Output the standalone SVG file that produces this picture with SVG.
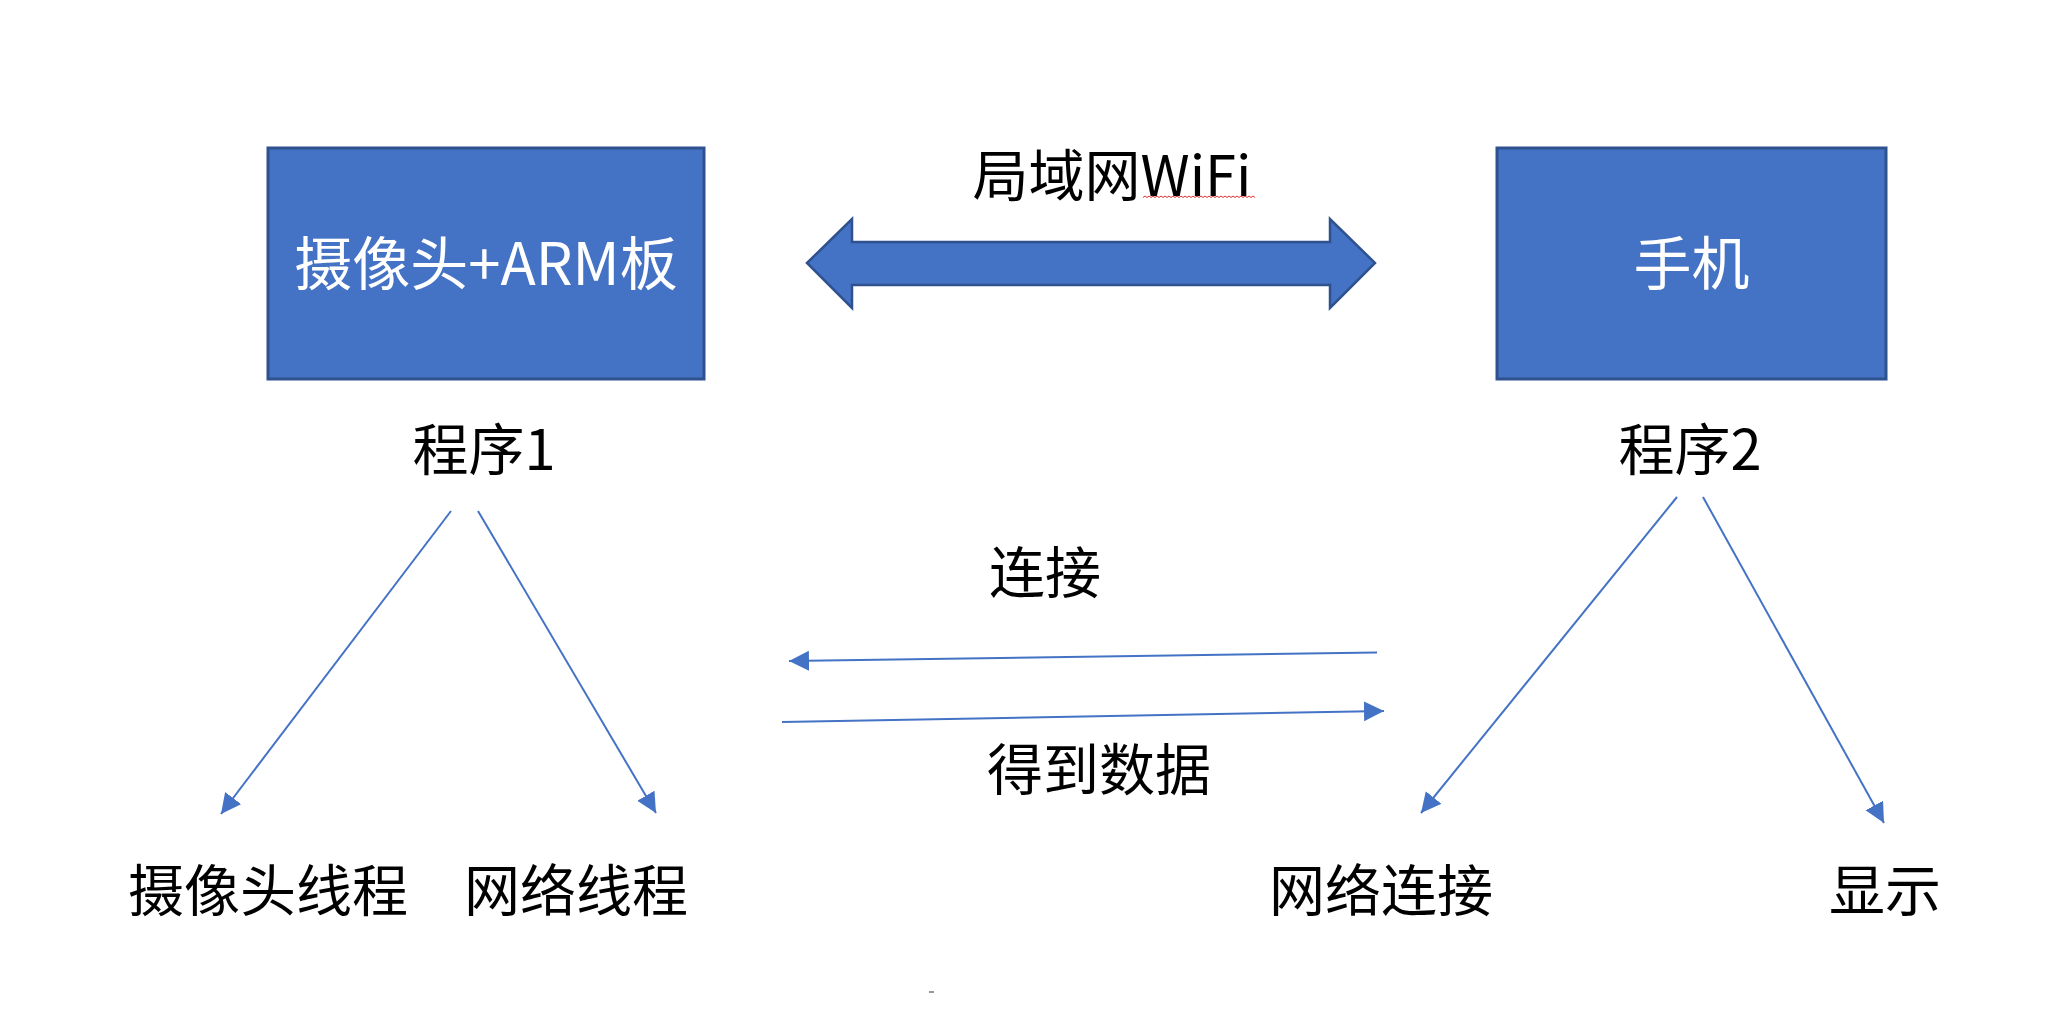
<svg xmlns="http://www.w3.org/2000/svg" width="2054" height="1020" viewBox="0 0 2054 1020">
  <defs>
    <style>
      .box { fill: #4472C4; stroke: #2F528F; stroke-width: 3; }
      .btxt { fill: #FFFFFF; font-family: "Noto Sans CJK SC", "Liberation Sans", sans-serif; font-size: 58px; text-anchor: middle; }
      .lbl { fill: #000000; font-family: "Noto Sans CJK SC", "Liberation Sans", sans-serif; font-size: 56px; text-anchor: middle; }
      .conn { stroke: #4472C4; stroke-width: 2; fill: none; marker-end: url(#ah); }
    </style>
    <marker id="ah" markerUnits="userSpaceOnUse" markerWidth="22" markerHeight="22" refX="20" refY="10" orient="auto">
      <path d="M0,0 L20,10 L0,20 Z" fill="#4472C4"/>
    </marker>
  </defs>
  <rect width="2054" height="1020" fill="#FFFFFF"/>

  <g id="node-camera-arm">
    <rect class="box" x="268" y="148" width="436" height="231"/>
    <text class="btxt" x="486" y="285">摄像头+ARM板</text>
  </g>
  <g id="node-phone">
    <rect class="box" x="1497" y="148" width="389" height="231"/>
    <text class="btxt" x="1691.5" y="285">手机</text>
  </g>

  <g id="node-wifi">
    <path d="M807,263 L852,219 L852,242 L1330,242 L1330,219 L1375,263 L1330,308 L1330,285 L852,285 L852,308 Z" fill="#4472C4" stroke="#2F528F" stroke-width="2.5" stroke-linejoin="miter"/>
    <text class="lbl" x="1112" y="196">局域网WiFi</text>
    <path d="M1143,197.5 l2,-1.5 l2,1.5 l2,-1.5 l2,1.5 l2,-1.5 l2,1.5 l2,-1.5 l2,1.5 l2,-1.5 l2,1.5 l2,-1.5 l2,1.5 l2,-1.5 l2,1.5 l2,-1.5 l2,1.5 l2,-1.5 l2,1.5 l2,-1.5 l2,1.5 l2,-1.5 l2,1.5 l2,-1.5 l2,1.5 l2,-1.5 l2,1.5 l2,-1.5 l2,1.5 l2,-1.5 l2,1.5 l2,-1.5 l2,1.5 l2,-1.5 l2,1.5 l2,-1.5 l2,1.5 l2,-1.5 l2,1.5 l2,-1.5 l2,1.5 l2,-1.5 l2,1.5 l2,-1.5 l2,1.5 l2,-1.5 l2,1.5 l2,-1.5 l2,1.5 l2,-1.5 l2,1.5 l2,-1.5 l2,1.5 l2,-1.5 l2,1.5 l2,-1.5 l2,1.5" fill="none" stroke="#E03030" stroke-width="1"/>
  </g>

  <g id="node-prog1"><text class="lbl" x="484" y="470">程序1</text></g>
  <g id="node-prog2"><text class="lbl" x="1690" y="470">程序2</text></g>
  <g id="node-camera-thread"><text class="lbl" x="268" y="911">摄像头线程</text></g>
  <g id="node-net-thread"><text class="lbl" x="576" y="911">网络线程</text></g>
  <g id="node-net-conn"><text class="lbl" x="1381" y="911">网络连接</text></g>
  <g id="node-display"><text class="lbl" x="1885" y="911">显示</text></g>
  <g id="label-connect"><text class="lbl" x="1045" y="593">连接</text></g>
  <g id="label-getdata"><text class="lbl" x="1099" y="790">得到数据</text></g>

  <g id="connectors">
    <line class="conn" x1="451" y1="511" x2="221" y2="814"/>
    <line class="conn" x1="478" y1="511" x2="656" y2="813"/>
    <line class="conn" x1="1677" y1="497" x2="1421" y2="813"/>
    <line class="conn" x1="1703" y1="497" x2="1884" y2="823"/>
    <line class="conn" x1="1377" y1="652.5" x2="789" y2="661"/>
    <line class="conn" x1="782" y1="722" x2="1384" y2="711"/>
  </g>

  <line x1="929" y1="992" x2="934" y2="992" stroke="#777777" stroke-width="1.5"/>
</svg>
